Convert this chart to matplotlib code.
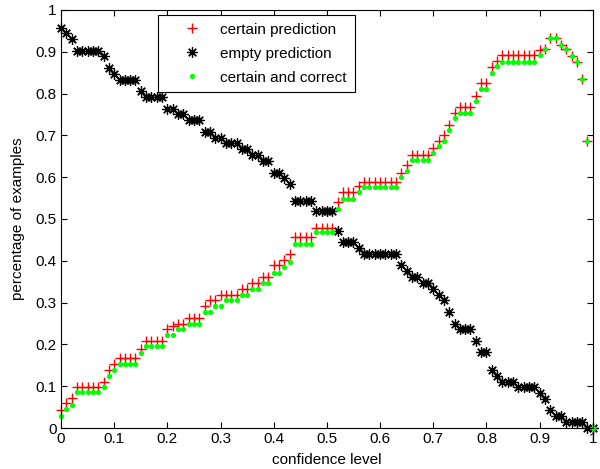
# PACKAGES

import numpy as np
import matplotlib
matplotlib.use("Agg")
import matplotlib.pyplot as plt

plt.rcParams['font.family'] = ['Liberation Sans', 'DejaVu Sans']

# DATA

conf = np.round(np.arange(0, 101) / 100, 2)  # confidence levels 0, 0.01, ..., 1

certain = [0.042, 0.060, 0.072, 0.097, 0.097, 0.097, 0.097, 0.097, 0.111, 0.139,
           0.153, 0.167, 0.167, 0.167, 0.167, 0.188, 0.208, 0.208, 0.208, 0.208,
           0.236, 0.245, 0.250, 0.250, 0.264, 0.264, 0.264, 0.292, 0.306, 0.306,
           0.319, 0.319, 0.319, 0.319, 0.333, 0.333, 0.347, 0.347, 0.361, 0.361,
           0.389, 0.389, 0.403, 0.417, 0.458, 0.458, 0.458, 0.458, 0.479, 0.479,
           0.479, 0.479, 0.541, 0.565, 0.565, 0.565, 0.579, 0.589, 0.589, 0.589,
           0.589, 0.589, 0.589, 0.589, 0.611, 0.628, 0.653, 0.653, 0.653, 0.653,
           0.670, 0.686, 0.700, 0.726, 0.753, 0.769, 0.769, 0.769, 0.794, 0.826,
           0.826, 0.864, 0.878, 0.892, 0.892, 0.892, 0.892, 0.892, 0.892, 0.892,
           0.904, 0.906, 0.932, 0.932, 0.917, 0.906, 0.891, 0.876, 0.835, 0.687,
           0.0]

empty = [0.958, 0.944, 0.931, 0.903, 0.903, 0.903, 0.903, 0.903, 0.889, 0.861,
         0.847, 0.833, 0.833, 0.833, 0.833, 0.806, 0.792, 0.792, 0.792, 0.792,
         0.764, 0.764, 0.750, 0.750, 0.736, 0.736, 0.736, 0.708, 0.708, 0.694,
         0.694, 0.681, 0.681, 0.681, 0.667, 0.667, 0.653, 0.653, 0.639, 0.639,
         0.611, 0.611, 0.597, 0.583, 0.542, 0.542, 0.542, 0.542, 0.519, 0.519,
         0.519, 0.519, 0.472, 0.444, 0.444, 0.444, 0.431, 0.417, 0.417, 0.417,
         0.417, 0.417, 0.417, 0.417, 0.389, 0.375, 0.361, 0.361, 0.347, 0.347,
         0.333, 0.319, 0.306, 0.278, 0.250, 0.236, 0.236, 0.236, 0.208, 0.181,
         0.181, 0.139, 0.125, 0.111, 0.111, 0.111, 0.097, 0.097, 0.097, 0.097,
         0.083, 0.069, 0.042, 0.028, 0.028, 0.014, 0.014, 0.014, 0.014, 0.0,
         0.0]

correct = [0.029, 0.045, 0.055, 0.085, 0.085, 0.085, 0.085, 0.085, 0.097, 0.125,
           0.139, 0.153, 0.153, 0.153, 0.153, 0.179, 0.195, 0.195, 0.195, 0.195,
           0.222, 0.222, 0.236, 0.236, 0.250, 0.250, 0.250, 0.278, 0.278, 0.292,
           0.292, 0.306, 0.306, 0.306, 0.319, 0.319, 0.333, 0.333, 0.347, 0.347,
           0.372, 0.372, 0.386, 0.398, 0.440, 0.440, 0.440, 0.440, 0.470, 0.470,
           0.470, 0.470, 0.523, 0.549, 0.549, 0.549, 0.565, 0.576, 0.576, 0.576,
           0.576, 0.576, 0.576, 0.576, 0.600, 0.615, 0.640, 0.640, 0.640, 0.640,
           0.658, 0.675, 0.687, 0.713, 0.741, 0.754, 0.754, 0.754, 0.783, 0.810,
           0.810, 0.850, 0.866, 0.876, 0.876, 0.876, 0.876, 0.876, 0.876, 0.876,
           0.892, 0.906, 0.932, 0.932, 0.917, 0.906, 0.891, 0.876, 0.835, 0.687,
           0.0]

ticks = np.round(np.arange(0, 11) / 10, 1)
tick_labels = ["0", "0.1", "0.2", "0.3", "0.4", "0.5", "0.6", "0.7", "0.8", "0.9", "1"]

# PLOT

fig = plt.figure(figsize=(6, 4.69), dpi=100)
ax = fig.add_axes([0.1017, 0.0874, 0.8863, 0.8913])

ax.plot(conf, certain, linestyle="none", marker="+", color="red",
        markersize=7.5, markeredgewidth=1.0, label="certain prediction", clip_on=False)
ax.plot(conf, empty, linestyle="none", marker=(8, 2, 0), color="black",
        markersize=7.5, markeredgewidth=0.9, label="empty prediction", clip_on=False)
ax.plot(conf, correct, linestyle="none", marker="o", color="#00ff00",
        markersize=3.8, markeredgewidth=0, label="certain and correct", clip_on=False)

ax.set_xlim(0, 1)
ax.set_ylim(0, 1)
ax.set_xticks(ticks)
ax.set_xticklabels(tick_labels)
ax.set_yticks(ticks)
ax.set_yticklabels(tick_labels)
ax.tick_params(direction="in", top=True, right=True, length=4, width=0.8, labelsize=11, pad=3)
for s in ax.spines.values():
    s.set_linewidth(0.8)

ax.set_xlabel("confidence level", fontsize=11, labelpad=5)
ax.set_ylabel("percentage of examples", fontsize=11, labelpad=8)

leg = ax.legend(loc="upper left", bbox_to_anchor=(0.182, 0.988), fontsize=11,
                fancybox=False, framealpha=1, edgecolor="black", borderpad=0.5,
                labelspacing=0.66, handlelength=3.5, handletextpad=0.1, borderaxespad=0)
leg.get_frame().set_linewidth(0.8)

fig.savefig("out.png", dpi=100)
